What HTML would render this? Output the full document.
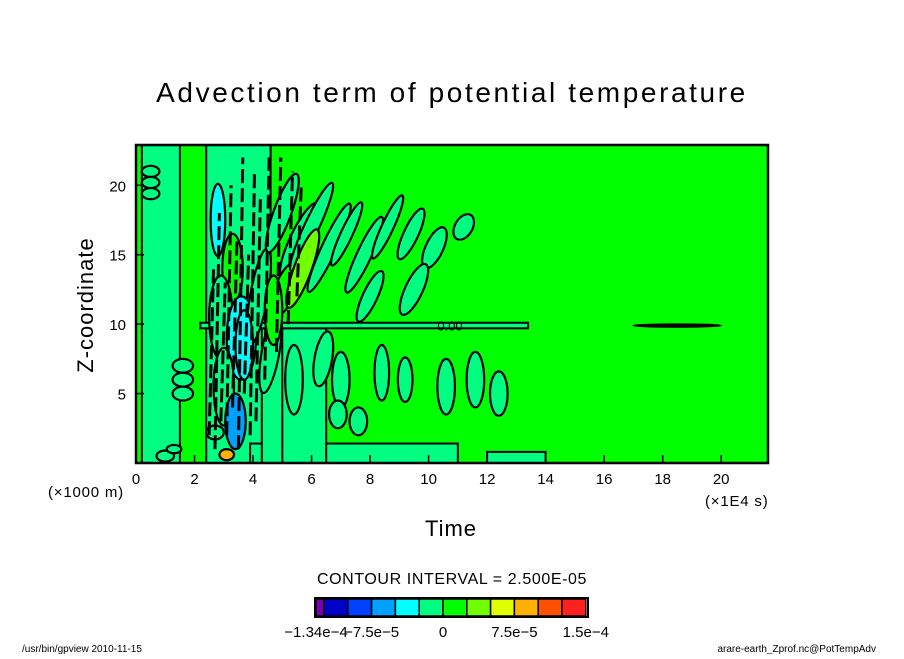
<!DOCTYPE html>
<html><head><meta charset="utf-8"><style>
body{margin:0;background:#fff;width:904px;height:654px;overflow:hidden;font-family:"Liberation Sans","DejaVu Sans",sans-serif}
svg text{font-family:"Liberation Sans","DejaVu Sans",sans-serif}
</style></head><body>
<svg id="chart" width="904" height="654" viewBox="0 0 904 654" xmlns="http://www.w3.org/2000/svg">
<text x="452" y="102" font-size="28" text-anchor="middle" letter-spacing="2.6">Advection term of potential temperature</text>
<defs><clipPath id="pc"><rect x="136" y="145" width="632" height="318"/></clipPath></defs>
<g id="plot" clip-path="url(#pc)"></g>
<rect x="136" y="145" width="632" height="318" fill="none" stroke="#000" stroke-width="2.5"/>
<g id="axes"></g>
<text x="0" y="0" font-size="22" text-anchor="middle" letter-spacing="1" transform="translate(93,305) rotate(-90)">Z-coordinate</text>
<text x="48" y="497" font-size="15" letter-spacing="0.8">(×1000 m)</text>
<text x="451" y="536" font-size="22" text-anchor="middle" letter-spacing="1">Time</text>
<text x="705" y="506" font-size="15" letter-spacing="0.8">(×1E4 s)</text>
<text x="452" y="584" font-size="16" text-anchor="middle" letter-spacing="0.6">CONTOUR INTERVAL = 2.500E-05</text>
<g id="cbar"></g>
<text x="22" y="652" font-size="10">/usr/bin/gpview   2010-11-15</text>
<text x="876" y="652" font-size="10" text-anchor="end">arare-earth_Zprof.nc@PotTempAdv</text>
</svg>
<script>
const xTicks=[0,2,4,6,8,10,12,14,16,18,20];
const yTicks=[5,10,15,20];
const tMax=21.6, zMax=22.9;
const levelColors=["#7a00b0","#0000c8","#0040ff","#00a0ff","#00ffff","#00ff80","#00ff00","#70ff00","#e0ff00","#ffb000","#ff5000","#ff2020"];
const cbarLabels=["-1.34e-4","-7.5e-5","0","7.5e-5","1.5e-4"];
const cbarLabelBounds=[0,3,6,9,12];
// regions: [t0,t1,z0,z1,levelIndex]
const regionT0=[0.2,2.4,3.9,4.3,5.0,12.0,2.2];
const regionT1=[1.5,4.6,11.0,5.5,6.5,14.0,13.4];
const regionZ0=[0,0,0,0,0,0,9.7];
const regionZ1=[22.9,22.9,1.4,9.7,9.7,0.8,10.1];
const regionLev=[5,5,5,5,5,5,5];
// contour ellipses: centre t, z, half-width t, half-height z, rotation, fill level
const blobT=[0.5,0.5,0.5,1.6,1.6,1.6,2.8,3.3,2.9,3.6,3.0,3.4,4.2,4.6,5.0,5.6,5.1,5.4,6.0,6.6,7.2,7.8,8.6,9.4,10.2,11.2,9.5,8.0,6.4,7.0,8.4,9.2,10.6,11.6,12.4,6.9,7.6,3.1,3.7,4.7,5.7,18.5,1.0,1.3,2.7];
const blobZ=[21.0,20.2,19.4,7.0,6.0,5.0,17.5,14.0,10.5,9.0,5.5,3.0,12.0,8.0,18.0,16.0,12.5,6.0,17.0,15.5,16.5,15.0,17.0,16.5,15.5,17.0,12.5,12.0,7.5,6.0,6.5,6.0,5.5,6.0,5.0,3.5,3.0,0.6,8.5,11.0,14.0,9.9,0.5,1.0,2.2];
const blobW=[0.3,0.3,0.3,0.35,0.35,0.35,0.25,0.35,0.4,0.5,0.35,0.35,0.3,0.3,0.3,0.35,0.35,0.3,0.25,0.25,0.2,0.25,0.2,0.25,0.3,0.3,0.3,0.25,0.3,0.3,0.25,0.25,0.3,0.3,0.3,0.3,0.3,0.25,0.3,0.3,0.3,1.5,0.3,0.25,0.3];
const blobH=[0.4,0.4,0.4,0.5,0.5,0.5,2.6,2.5,3.0,3.0,2.8,2.0,3.5,3.0,3.0,3.0,2.0,2.5,3.5,3.5,2.5,3.0,2.5,2.0,1.6,1.0,2.0,2.0,2.0,2.0,2.0,1.6,2.0,2.0,1.6,1.0,1.0,0.4,2.5,2.5,3.0,0.08,0.4,0.3,0.5];
const blobRot=[0,0,0,0,0,0,0,0,0,0,0,0,10,10,20,25,20,0,25,25,25,25,25,25,25,30,25,25,10,0,0,0,0,0,0,0,0,0,0,0,20,0,0,0,0];
const blobLev=[5,5,5,5,5,5,4,6,5,4,5,3,5,5,5,5,6,5,5,5,5,5,5,5,5,5,5,5,5,5,5,5,5,5,5,5,5,9,4,6,7,5,5,5,5];
const X=t=>136+t*(632/tMax), Y=z=>463-z*(318/zMax);
const NS="http://www.w3.org/2000/svg";
function mk(tag,at,parent){const e=document.createElementNS(NS,tag);for(const k in at)e.setAttribute(k,at[k]);parent.appendChild(e);return e;}
const plot=document.getElementById('plot');
const bg=mk('rect',{x:136,y:145,width:632,height:318,fill:levelColors[6]},plot);


for(let i=0;i<regionT0.length;i++){
 const r=mk('rect',{x:X(regionT0[i]),y:Y(regionZ1[i]),width:X(regionT1[i])-X(regionT0[i]),height:Y(regionZ0[i])-Y(regionZ1[i]),fill:levelColors[regionLev[i]],stroke:'#000','stroke-width':2},plot);
 
 
}
for(let i=0;i<blobT.length;i++){
 const cx=X(blobT[i]),cy=Y(blobZ[i]);
 const e=mk('ellipse',{cx:cx,cy:cy,rx:blobW[i]*632/tMax,ry:blobH[i]*318/zMax,fill:levelColors[blobLev[i]],stroke:'#000','stroke-width':2.2,transform:`rotate(${blobRot[i]} ${cx} ${cy})`},plot);
 
 
}
const denseT=[2.5,2.7,2.9,3.1,3.3,3.5,3.7,3.9,4.1,4.4,4.8,5.2,5.5];
const denseZ0=[2,1,3,2,4,1,5,2,3,6,8,10,12];
const denseZ1=[14,18,13,20,16,22,15,21,19,22,22,21,20];
for(let i=0;i<denseT.length;i++){
 const l=mk('line',{x1:X(denseT[i]),x2:X(denseT[i]+0.15),y1:Y(denseZ0[i]),y2:Y(denseZ1[i]),stroke:'#000','stroke-width':3,'stroke-dasharray':'14 5'},plot);
 
 
}
const lab=mk('text',{x:X(10.3),y:Y(9.9)+5,'font-size':13},plot);lab.textContent='0.00';


const axes=document.getElementById('axes');
xTicks.forEach(v=>{
 const tk=mk('line',{x1:X(v),x2:X(v),y1:463,y2:455,stroke:'#000','stroke-width':1.5},axes);
 
 
 const t=mk('text',{x:X(v),y:484,'font-size':15,'text-anchor':'middle'},axes);t.textContent=v;
 
 
});
yTicks.forEach(v=>{
 const tk=mk('line',{x1:136,x2:144,y1:Y(v),y2:Y(v),stroke:'#000','stroke-width':1.5},axes);
 
 
 const t=mk('text',{x:126,y:Y(v)+6,'font-size':15,'text-anchor':'end'},axes);t.textContent=v;
 
 
});
const cb=document.getElementById('cbar');
const cbX=[316,324];for(let i=1;i<12;i++)cbX.push(324+i*23.8);
for(let i=0;i<12;i++){
 const r=mk('rect',{x:cbX[i],y:599,width:cbX[i+1]-cbX[i],height:17,fill:levelColors[i],stroke:'#000','stroke-width':1.5},cb);
 
 
}
mk('rect',{x:315,y:598,width:273,height:19,fill:'none',stroke:'#000','stroke-width':2},cb);
cbarLabels.forEach((s,i)=>{
 const x=cbX[cbarLabelBounds[i]];
 const t=mk('text',{x:x,y:637,'font-size':15,'text-anchor':'middle'},cb);t.textContent=s.replace(/-/g,'−');
 
 
});
</script>
</body></html>
